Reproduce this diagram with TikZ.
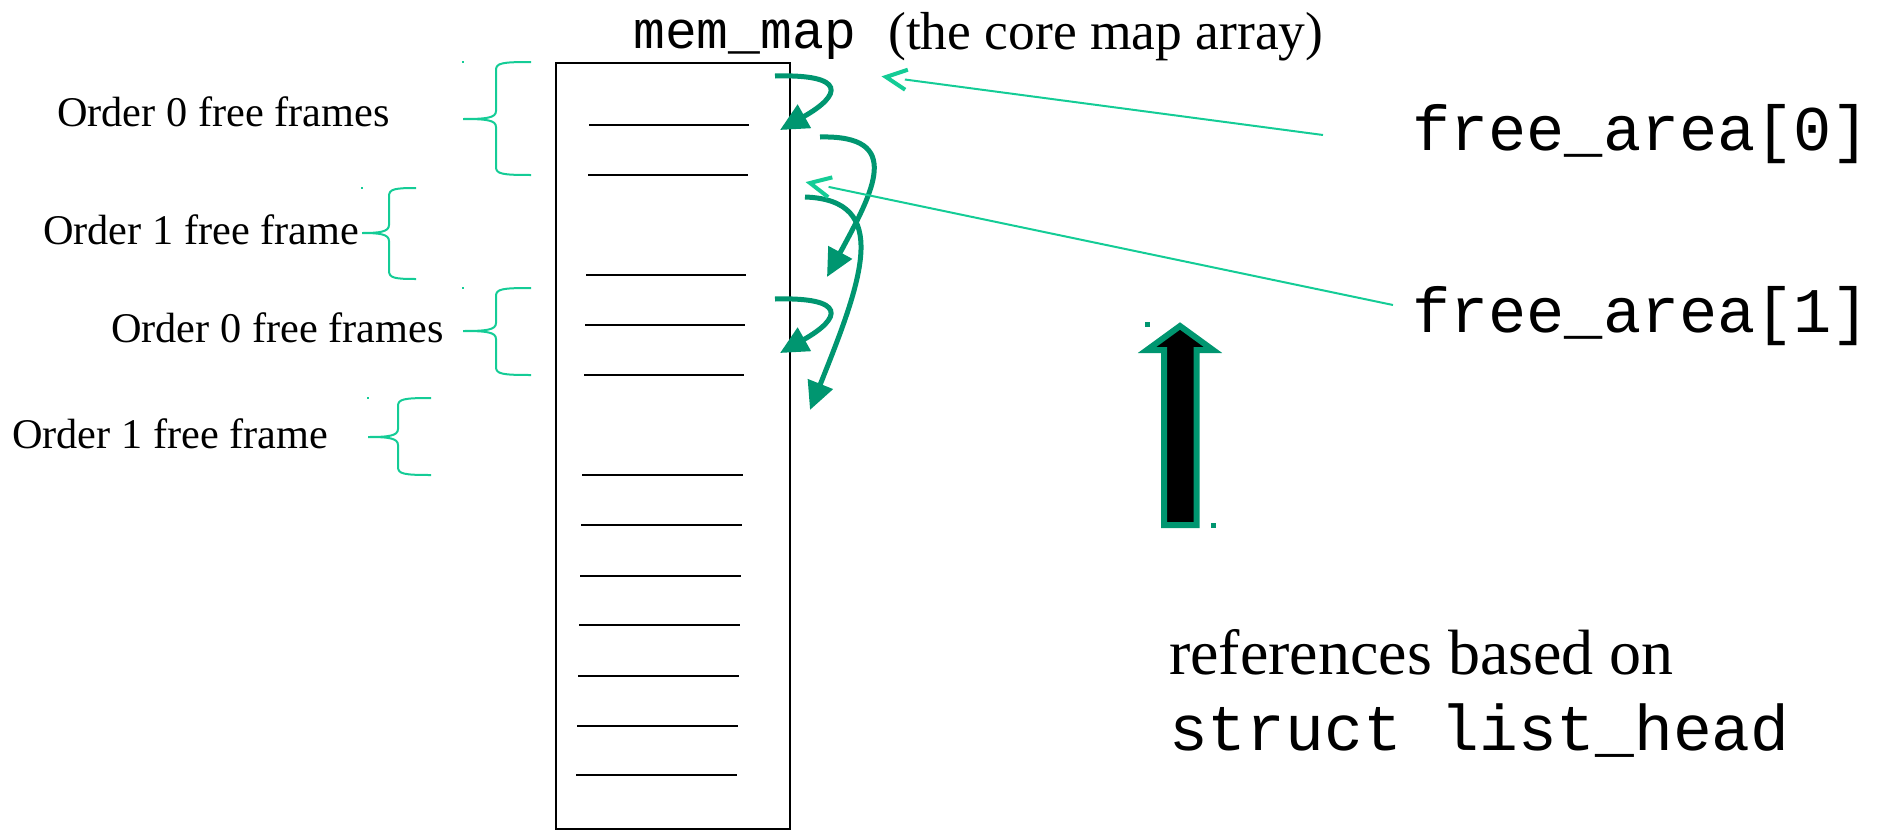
\documentclass[tikz,border=0pt]{standalone}
\usepackage{fontspec}
\setmainfont{Liberation Serif}
\setmonofont{Liberation Mono}
\usetikzlibrary{arrows.meta,calc}
\definecolor{dkgreen}{RGB}{0,150,112}
\definecolor{ltgreen}{RGB}{20,204,150}
\tikzset{
  brace/.style={draw=ltgreen, line width=2pt},
  ptr/.style={draw=dkgreen, line width=5pt, -{Triangle[length=28pt,width=26pt]}},
  refline/.style={draw=ltgreen, line width=2pt},
  chev/.style={draw=ltgreen, line width=4pt, line join=miter},
  slot/.style={draw=black, line width=2pt},
  lbl/.style={anchor=base west, inner sep=0pt, font=\fontsize{42.3}{50}\selectfont},
  titlemono/.style={anchor=base west, inner sep=0pt, font=\ttfamily\fontsize{53}{60}\selectfont},
  titleserif/.style={anchor=base west, inner sep=0pt, font=\fontsize{53.5}{60}\selectfont},
  bigmono/.style={anchor=base west, inner sep=0pt, font=\ttfamily\fontsize{63.6}{70}\selectfont},
  notemono/.style={anchor=base west, inner sep=0pt, font=\ttfamily\fontsize{64.6}{70}\selectfont},
  bigserif/.style={anchor=base west, inner sep=0pt, font=\fontsize{64}{70}\selectfont},
  handle/.style={fill=dkgreen},
  bracedot/.style={fill=ltgreen}
}
% #1 tip x, #2 vertical x, #3 right x, #4 top y, #5 mid y, #6 bottom y
\newcommand\ordbrace[6]{%
  \draw[brace] (#3,#4) .. controls ({#2+6},#4) and (#2,{#4+1}) .. (#2,{#4+8})
    -- (#2,{#5-8}) .. controls (#2,{#5-1}) and ({#2-10},#5) .. (#1,#5)
    .. controls ({#2-10},#5) and (#2,{#5+1}) .. (#2,{#5+8})
    -- (#2,{#6-8}) .. controls (#2,{#6-1}) and ({#2+6},#6) .. (#3,#6);
  \fill[bracedot] ({#1-1},{#4-1}) rectangle ({#1+1},{#4+1});
}
\begin{document}
\begin{tikzpicture}[x=1pt,y=-1pt]
\useasboundingbox (0,0) rectangle (1878,830);

% the core map array
\node[draw=black, line width=2pt, anchor=north west, inner sep=0pt,
      minimum width=234pt, minimum height=766pt] (memmap) at (555,62) {};
\draw[slot] (589,125) -- (749,125);
\draw[slot] (588,175) -- (748,175);
\draw[slot] (586,275) -- (746,275);
\draw[slot] (585,325) -- (745,325);
\draw[slot] (584,375) -- (744,375);
\draw[slot] (582,475) -- (743,475);
\draw[slot] (581,525) -- (742,525);
\draw[slot] (580,576) -- (741,576);
\draw[slot] (579,625) -- (740,625);
\draw[slot] (578,676) -- (739,676);
\draw[slot] (577,726) -- (738,726);
\draw[slot] (576,775) -- (737,775);

% titles
\node[titlemono] (mm) at (633,48) {mem\_map};
\node[titleserif] (mmcap) at (888,49) {(the core map array)};

% braces and labels
\ordbrace{463}{496}{531}{62}{119}{175}
\ordbrace{362}{389}{416}{188}{233}{279}
\ordbrace{463}{496}{531}{288}{331}{375}
\ordbrace{368}{398}{431}{398}{437}{475}
\node[lbl] (o0a) at (57,126) {Order 0 free frames};
\node[lbl] (o1a) at (43,244) {Order 1 free frame};
\node[lbl] (o0b) at (111,342) {Order 0 free frames};
\node[lbl] (o1b) at (12,448) {Order 1 free frame};

% free lists
\coordinate (a1s) at (775,76);  \coordinate (a1e) at (780,130);
\coordinate (a2s) at (820,137); \coordinate (a2e) at (827,277);
\coordinate (a3s) at (805,197); \coordinate (a3e) at (810,410);
\coordinate (a4s) at (775,299); \coordinate (a4e) at (780,353);
\draw[ptr] (a1s) .. controls (847,74) and (842,95) .. (a1e);
\draw[ptr] (a2s) .. controls (904,135) and (874,190) .. (a2e);
\draw[ptr] (a3s) .. controls (892,200) and (862,280) .. (a3e);
\draw[ptr] (a4s) .. controls (847,297) and (842,318) .. (a4e);

% free_area heads
\node[bigmono] (fa0) at (1412,150) {free\_area[0]};
\node[bigmono] (fa1) at (1412,332) {free\_area[1]};
\coordinate (fa0tail) at (1323,135); \coordinate (fa0tip) at (886,77);
\coordinate (fa1tail) at (1393,305); \coordinate (fa1tip) at (810,183);
\draw[refline] (fa0tail) -- ($(fa0tip)!19pt!(fa0tail)$);
\draw[chev] ($(fa0tip)!23pt!26:(fa0tail)$) -- (fa0tip) -- ($(fa0tip)!23pt!-26:(fa0tail)$);
\draw[refline] (fa1tail) -- ($(fa1tip)!19pt!(fa1tail)$);
\draw[chev] ($(fa1tip)!23pt!26:(fa1tail)$) -- (fa1tip) -- ($(fa1tip)!23pt!-26:(fa1tail)$);

% block arrow
\draw[draw=dkgreen, line width=6pt, fill=black, line join=miter]
  (1180,326) -- (1213,350) -- (1196.5,350) -- (1196.5,525) -- (1164,525)
  -- (1164,350) -- (1147,350) -- cycle;
\fill[handle] (1145,322) rectangle (1150,327);
\fill[handle] (1211,523) rectangle (1216,528);

% note
\node[bigserif] (note1) at (1169,674) {references based on};
\node[notemono] (note2) at (1169,750) {struct list\_head};
\end{tikzpicture}
\end{document}
